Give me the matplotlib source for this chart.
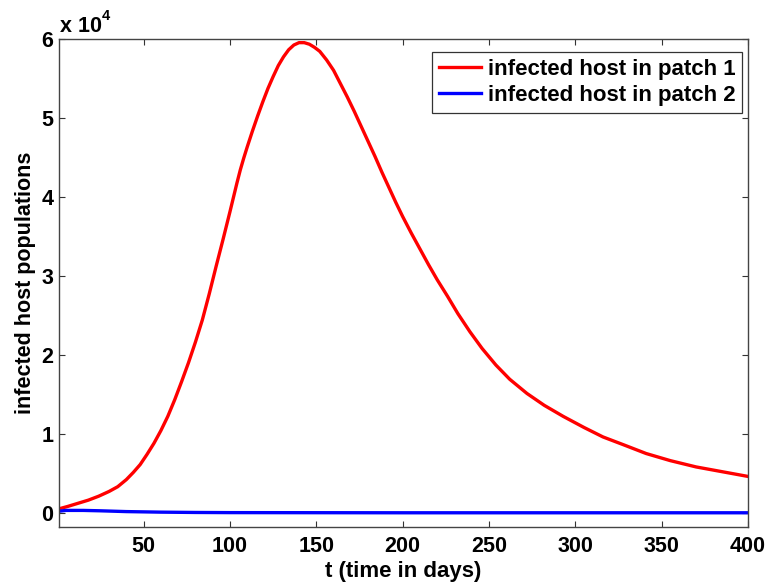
import matplotlib
matplotlib.use("Agg")
import matplotlib.pyplot as plt
import numpy as np

plt.rcParams['font.family'] = ['Liberation Sans', 'DejaVu Sans']

# --- data (values in units of 1e4) ---
t_patch1 = [1, 6, 12, 18, 24, 30, 35, 40, 44, 48, 52, 56, 60, 64, 68, 72, 76, 80, 84, 88,
            92, 96, 100, 104, 106, 108, 110, 113, 116, 119, 122, 125, 128, 131, 134, 137,
            140, 143, 146, 149, 152, 156, 160, 164, 168, 172, 176, 180, 184, 188, 192, 196,
            200, 205, 210, 215, 220, 226, 232, 239, 246, 254, 262, 272, 282, 293, 305, 316,
            328, 341, 355, 370, 385, 400]
infected_patch1 = [0.05, 0.08, 0.12, 0.16, 0.21, 0.27, 0.33, 0.42, 0.51, 0.61, 0.74, 0.88,
                   1.04, 1.22, 1.43, 1.66, 1.90, 2.16, 2.44, 2.77, 3.12, 3.46, 3.81, 4.17,
                   4.34, 4.49, 4.63, 4.83, 5.02, 5.20, 5.37, 5.52, 5.66, 5.77, 5.86, 5.92,
                   5.95, 5.95, 5.93, 5.89, 5.84, 5.73, 5.60, 5.43, 5.26, 5.08, 4.89, 4.70,
                   4.51, 4.31, 4.12, 3.93, 3.75, 3.54, 3.34, 3.14, 2.95, 2.74, 2.52, 2.29,
                   2.08, 1.87, 1.69, 1.51, 1.36, 1.22, 1.08, 0.96, 0.86, 0.75, 0.66, 0.58,
                   0.52, 0.46]
t_patch2 = [1, 5, 10, 15, 25, 40, 60, 80, 100, 150, 200, 300, 400]
infected_patch2 = [0.02, 0.03, 0.03, 0.03, 0.025, 0.015, 0.008, 0.004, 0.002, 0.001, 0.0, 0.0, 0.0]

xticks = [50, 100, 150, 200, 250, 300, 350, 400]
yticks = [0, 1, 2, 3, 4, 5, 6]
scale = 1e4

fig = plt.figure(figsize=(7.66, 5.85), dpi=100)
ax_l, ax_r, ax_t, ax_b = 59, 748, 38.7, 527
ax = fig.add_axes([ax_l/766, (585-ax_b)/585, (ax_r-ax_l)/766, (ax_b-ax_t)/585])

ax.plot(t_patch1, np.array(infected_patch1)*scale, color='#ff0000', lw=2.4,
        label='infected host in patch 1', solid_joinstyle='round')
ax.plot(t_patch2, np.array(infected_patch2)*scale, color='#0000ff', lw=2.4,
        label='infected host in patch 2', solid_joinstyle='round')

ax.set_xlim(1, 400)
ax.set_ylim(-0.18*scale, 6*scale)
ax.set_xticks(xticks)
ax.set_xticklabels([str(v) for v in xticks])
ax.set_yticks([v*scale for v in yticks])
ax.set_yticklabels([str(v) for v in yticks])

for lab in ax.get_xticklabels() + ax.get_yticklabels():
    lab.set_fontweight('bold')
    lab.set_fontsize(15.5)

ax.tick_params(direction='in', length=4, width=0.8, top=True, right=True, colors='#333333',
               labelcolor='black')
ax.tick_params(axis='x', pad=6.5)
ax.tick_params(axis='y', pad=4)
for s in ax.spines.values():
    s.set_color('#444444')
    s.set_linewidth(1.0)

ax.set_xlabel('t (time in days)', fontsize=16, fontweight='bold', labelpad=3)
ax.set_ylabel('infected host populations', fontsize=15.5, fontweight='bold', labelpad=4)

fig.text(60/766, 1-32.3/585, 'x 10', fontsize=15.5, fontweight='bold', ha='left', va='baseline')
fig.text(101.5/766, 1-20/585, '4', fontsize=10.5, fontweight='bold', ha='left', va='baseline')

leg_x = (742-ax_l)/(ax_r-ax_l)
leg_y = (ax_b-52)/(ax_b-ax_t)
leg = ax.legend(loc='upper right', bbox_to_anchor=(leg_x, leg_y), borderaxespad=0,
                prop={'weight': 'bold', 'size': 16},
                frameon=True, fancybox=False, edgecolor='#333333', framealpha=1,
                borderpad=0.3, handlelength=1.9, handletextpad=0.3, labelspacing=0.25)
leg.get_frame().set_linewidth(0.9)

fig.savefig('out.png', dpi=100)
